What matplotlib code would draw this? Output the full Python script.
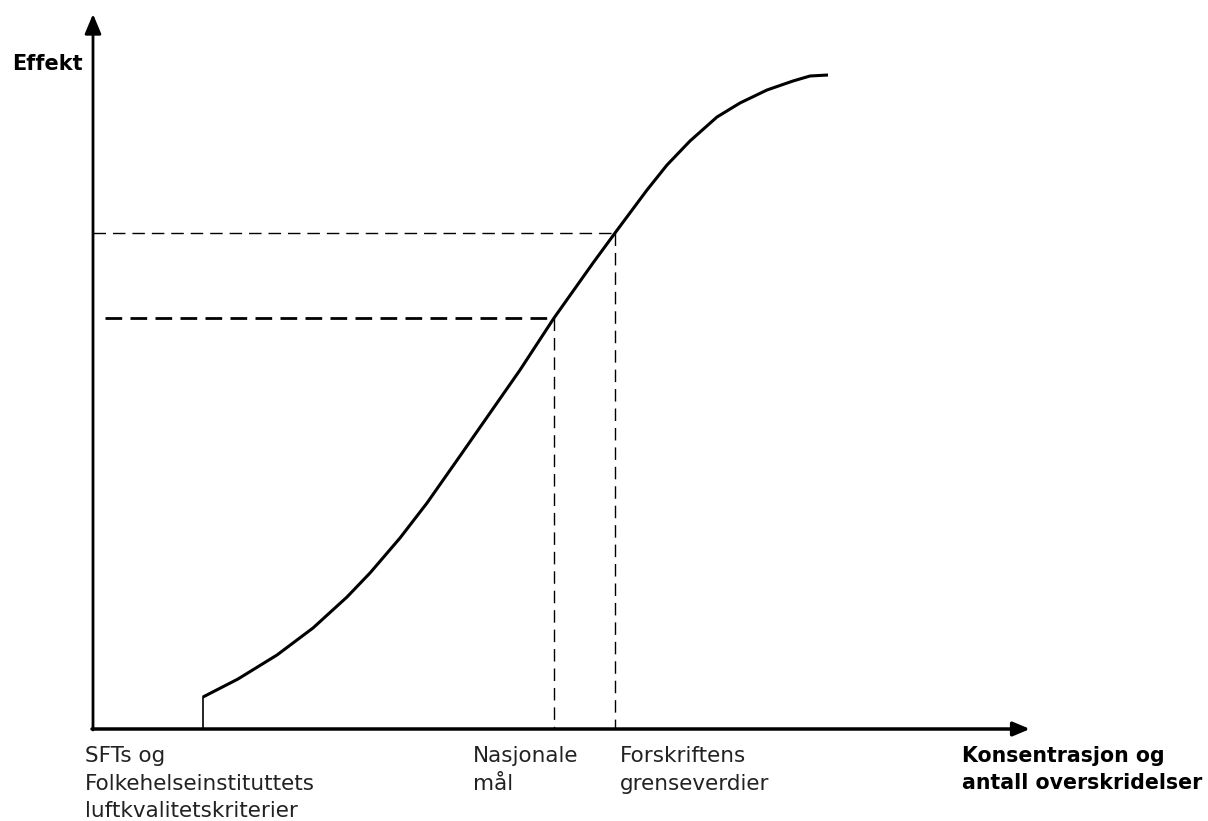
import matplotlib
matplotlib.use("Agg")
import matplotlib.pyplot as plt

plt.rcParams['font.family'] = ['DejaVu Sans']

# Curve (pixel-like coordinates, y downward)
curve_x = [203, 238, 277, 313, 347, 370, 400, 427, 460, 490, 520, 554, 593, 615,
           647, 667, 690, 717, 740, 767, 793, 810, 828]
curve_y = [697, 679, 655, 628, 597, 573, 538, 503, 456, 413, 370, 318, 263, 233,
           190, 165, 141, 117, 103, 90, 81, 76, 75]

start_x, start_y = 203, 697
nasj_x, nasj_y = 554, 318
forsk_x, forsk_y = 615, 233

x_labels = ["SFTs og\nFolkehelseinstituttets\nluftkvalitetskriterier",
            "Nasjonale\nmål",
            "Forskriftens\ngrenseverdier"]
x_label_pos = [85, 473, 620]
y_title = "Effekt"
x_title = "Konsentrasjon og\nantall overskridelser"

fig = plt.figure(figsize=(12.08, 8.21), dpi=100)
ax = fig.add_axes([0, 0, 1, 1])
ax.set_xlim(0, 1208)
ax.set_ylim(821, 0)
ax.axis('off')

ox, oy = 93, 729
# axes with arrows
ax.annotate('', xy=(ox, 14), xytext=(ox, oy + 1),
            arrowprops=dict(arrowstyle='-|>,head_length=1.2,head_width=0.5', color='black', lw=2, shrinkA=0, shrinkB=0))
ax.annotate('', xy=(1030, oy), xytext=(ox - 1, oy),
            arrowprops=dict(arrowstyle='-|>,head_length=1.0,head_width=0.42', color='black', lw=2.5, shrinkA=0, shrinkB=0))

# curve
ax.plot(curve_x, curve_y, color='black', lw=2.2, solid_joinstyle='round', solid_capstyle='butt')
# start tick
ax.plot([start_x, start_x], [start_y, oy], color='black', lw=1.2)

# dashed guides
ax.plot([ox, forsk_x], [forsk_y, forsk_y], color='black', lw=1.0, dashes=(9, 5))
ax.plot([forsk_x, forsk_x], [forsk_y, oy], color='black', lw=1.0, dashes=(9, 5))
ax.plot([ox + 12, nasj_x], [nasj_y, nasj_y], color='black', lw=2.0, dashes=(6, 3))
ax.plot([nasj_x, nasj_x], [nasj_y, oy], color='black', lw=1.0, dashes=(9, 5))

# texts
ax.text(12, 70, y_title, fontsize=15, fontweight='bold', va='baseline', ha='left')
for lab, xp in zip(x_labels, x_label_pos):
    ax.text(xp, 746, lab, fontsize=15.5, va='top', ha='left', color='#222222', linespacing=1.48)
ax.text(962, 746, x_title, fontsize=14.8, fontweight='bold', va='top', ha='left', linespacing=1.45)

fig.savefig('out.png', dpi=100)
